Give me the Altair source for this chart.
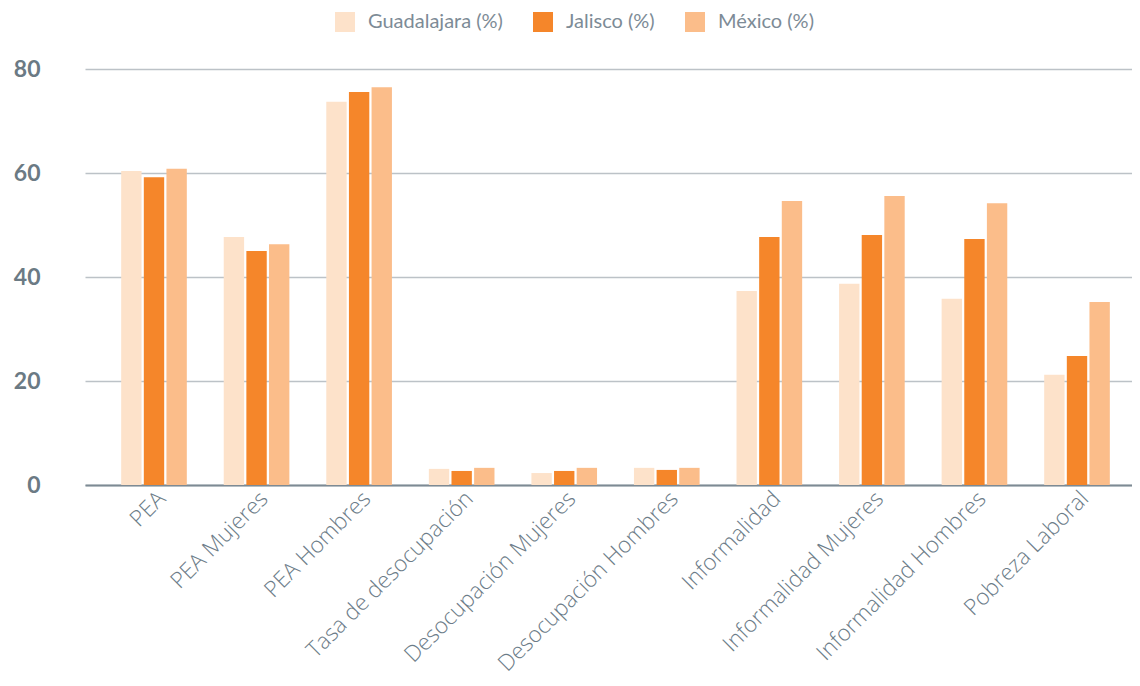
import altair as alt
import pandas as pd

categorias = ["PEA", "PEA Mujeres", "PEA Hombres", "Tasa de  desocupación",
              "Desocupación Mujeres", "Desocupación Hombres", "Informalidad",
              "Informalidad Mujeres", "Informalidad Hombres", "Pobreza Laboral"]
series = ["Guadalajara (%)", "Jalisco (%)", "México (%)"]
colores = ["#FDE2CA", "#F5862A", "#FBBD8A"]

guadalajara = [60.4, 47.7, 73.7, 3.1, 2.3, 3.3, 37.3, 38.7, 35.8, 21.2]
jalisco = [59.2, 45.0, 75.6, 2.7, 2.7, 2.9, 47.7, 48.1, 47.3, 24.8]
mexico = [60.8, 46.3, 76.5, 3.3, 3.3, 3.3, 54.6, 55.6, 54.2, 35.2]

rows = []
for s, vals in zip(series, [guadalajara, jalisco, mexico]):
    for c, v in zip(categorias, vals):
        rows.append({"categoria": c, "serie": s, "valor": v})
df = pd.DataFrame(rows)

chart = alt.Chart(df).mark_bar().encode(
    x=alt.X("categoria:N", sort=categorias, title=None,
            scale=alt.Scale(paddingInner=0.36, paddingOuter=0.2845, align=0.62),
            axis=alt.Axis(labelAngle=-45, labelFontSize=22.5, labelFontWeight=300,
                          labelColor="#6c7c88",
                          labelFont="Open Sans", ticks=False, domain=True,
                          domainColor="#7d8a94", domainWidth=2, labelPadding=2,
                          labelLimit=400, grid=False)),
    xOffset=alt.XOffset("serie:N", sort=series, scale=alt.Scale(paddingInner=0.1)),
    y=alt.Y("valor:Q", scale=alt.Scale(domain=[0, 80]),
            axis=alt.Axis(values=[0, 20, 40, 60, 80], title=None, domain=False,
                          ticks=False, labelFontSize=23, labelFontWeight="bold",
                          labelColor="#6b7a84", labelFont="Lato", labelPadding=45,
                          gridColor="#bcc2c7", gridWidth=1.5)),
    color=alt.Color("serie:N", sort=series,
                    scale=alt.Scale(domain=series, range=colores),
                    legend=alt.Legend(title=None, orient="none", legendX=250,
                                      legendY=-57, direction="horizontal",
                                      symbolType="square", symbolSize=400,
                                      symbolStrokeWidth=0, labelFontSize=20,
                                      labelFontWeight="normal",
                                      labelColor="#7d8b96", labelFont="Lato",
                                      columnPadding=30, labelOffset=13)),
).properties(
    width=1047, height=416,
    padding={"left": 77, "top": 61, "right": 0, "bottom": 193},
    autosize="none",
).configure_view(stroke=None)

chart.save("out.html", embed_options={"renderer": "svg", "actions": False})
